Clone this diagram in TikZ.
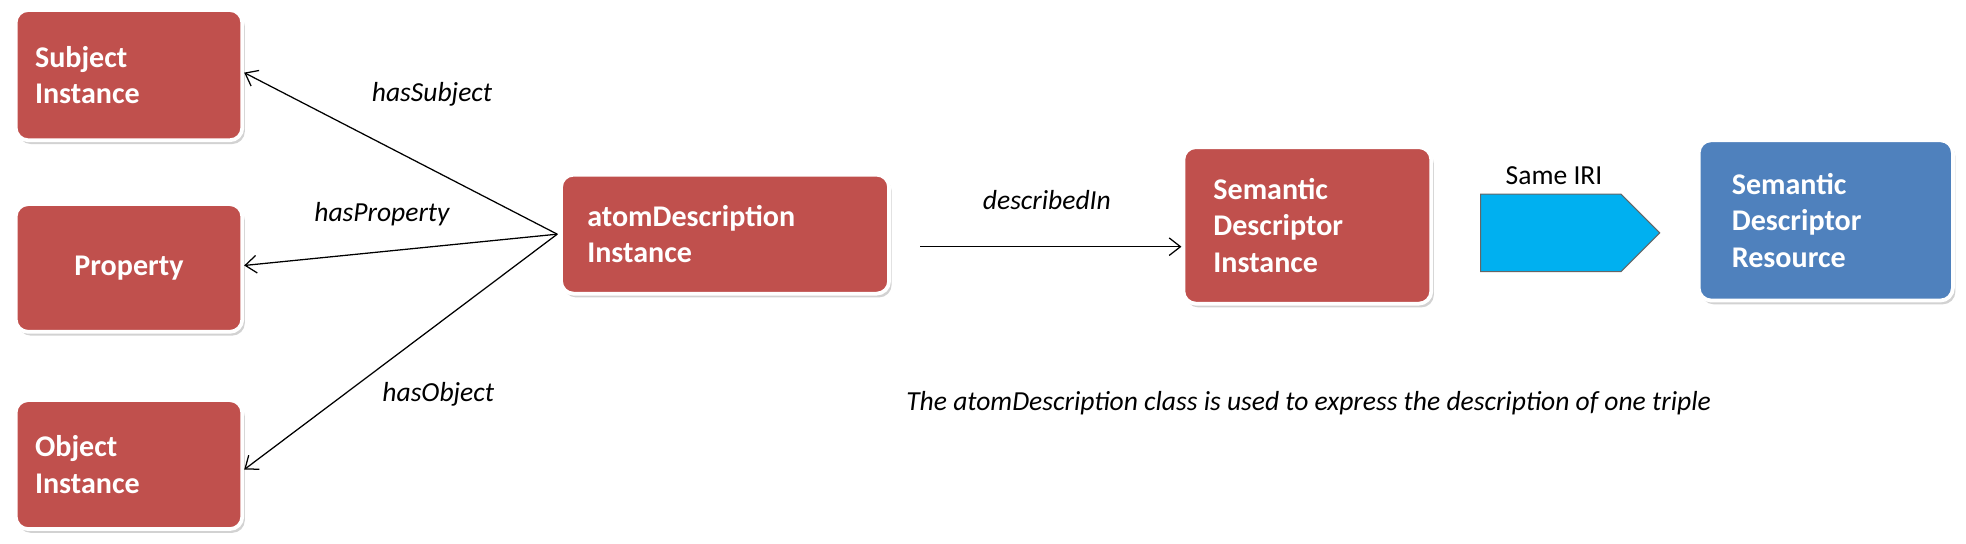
\documentclass[tikz,border=0pt]{standalone}
\usepackage{fontspec}
\setmainfont{Carlito}
\usetikzlibrary{shapes.arrows,shadows}
\definecolor{boxred}{HTML}{C0504D}
\definecolor{boxblue}{HTML}{4F81BD}
\definecolor{arrcyan}{HTML}{00B0F0}
\tikzset{
 box/.style={draw=white,line width=3pt,rounded corners=10pt,fill=boxred,text=white,
   font=\fontsize{24}{29}\selectfont\bfseries,align=left,inner sep=0pt,
   drop shadow={shadow xshift=2pt,shadow yshift=-3pt,opacity=0.35}},
 lab/.style={font=\fontsize{22}{26}\selectfont\itshape},
 conn/.style={-{Straight Barb[length=9pt,width=14pt]},line width=1pt}
}
\usetikzlibrary{arrows.meta}
\begin{document}
\begin{tikzpicture}[x=1pt,y=-1pt]
\useasboundingbox (0,0) rectangle (1570,434);
\fill[white] (0,0) rectangle (1570,434);
\node[box,minimum width=181pt,minimum height=104pt,text width=150pt] (subj) at (103,60) {Subject\\Instance};
\node[box,minimum width=181pt,minimum height=102pt,align=center,text width=181pt] (prop) at (103,214) {Property};
\node[box,minimum width=181pt,minimum height=103pt,text width=150pt] (obj) at (103,371) {Object\\Instance};
\node[box,minimum width=262pt,minimum height=95pt,text width=220pt] (atom) at (579,187) {atomDescription\\Instance};
\node[box,minimum width=198pt,minimum height=125pt,text width=150pt] (sdi) at (1044,180) {Semantic\\Descriptor\\Instance};
\node[box,fill=boxblue,minimum width=203pt,minimum height=128pt,text width=150pt] (sdr) at (1458,176) {Semantic\\Descriptor\\Resource};
\coordinate (hub) at (445,187);
\draw[conn] (hub) -- (subj.east |- 0,58) coordinate (s1);
\draw[conn] (hub) -- (prop.east |- 0,212);
\draw[conn] (hub) -- (obj.east |- 0,375);
\node[lab] (l1) at (345,75) {hasSubject};
\node[lab] (l2) at (305,171) {hasProperty};
\node[lab] (l3) at (350,315) {hasObject};
\coordinate (d1) at (735,197);
\draw[conn] (d1) -- (sdi.west |- d1);
\node[lab] (l4) at (836,160) {describedIn};
\node[single arrow,draw=black!60,line width=0.8pt,fill=arrcyan,minimum height=143pt,minimum width=62pt,single arrow head extend=0pt,single arrow tip angle=90,inner sep=0pt,anchor=west] (same) at (1182,186) {};
\node[font=\fontsize{22}{26}\selectfont] (sl) at (1241,140) {Same IRI};
\node[lab] (cap) at (1045,322) {The atomDescription class is used to express the description of one triple};
\end{tikzpicture}
\end{document}
